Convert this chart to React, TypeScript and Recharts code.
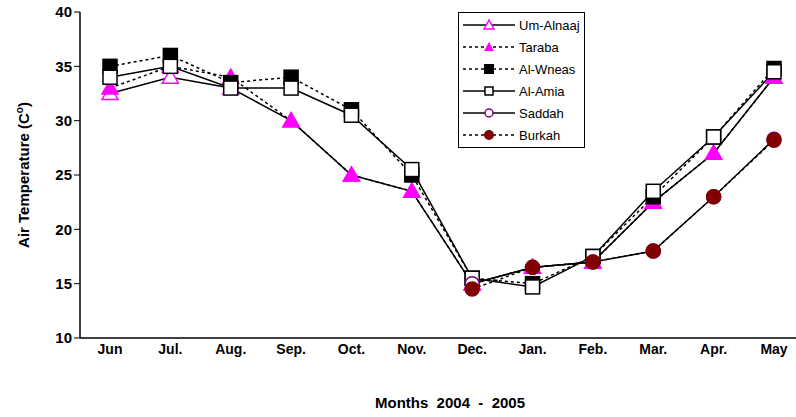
import React from "react";
import { LineChart, Line, XAxis, YAxis } from "recharts";

const months = ["Jun","Jul.","Aug.","Sep.","Oct.","Nov.","Dec.","Jan.","Feb.","Mar.","Apr.","May"];
const umAlnaaj = [32.5,34,33,30,25,23.5,15,16.5,17,22.5,27,34];
const taraba = [33,35,34,30,25,23.5,15,16.5,17,22.5,27,34];
const alWneas = [35,36,33.5,34,31,25,15.5,15,17.5,23,28.5,34.8];
const alAmia = [34,35,33,33,30.5,25.5,15.5,14.7,17.5,23.5,28.5,34.5];
const saddah = [null,null,null,null,null,null,15,16.5,17,18,23,28.3];
const burkah = [null,null,null,null,null,null,14.5,16.5,17,18,23,28.2];
const yTicks = [10,15,20,25,30,35,40];

const data = months.map((m, i) => ({
  m, umAlnaaj: umAlnaaj[i], taraba: taraba[i], alWneas: alWneas[i],
  alAmia: alAmia[i], saddah: saddah[i], burkah: burkah[i],
}));

const Tri = (fill: string) => (p: any) => {
  const { cx, cy } = p;
  if (cx == null || cy == null) return <g />;
  return <polygon points={`${cx},${cy - 8} ${cx - 8},${cy + 6} ${cx + 8},${cy + 6}`} fill={fill} stroke="#ff00ff" strokeWidth={1.5} />;
};
const Sq = (fill: string) => (p: any) => {
  const { cx, cy } = p;
  if (cx == null || cy == null) return <g />;
  return <rect x={cx - 7} y={cy - 7} width={14} height={14} fill={fill} stroke="#000" strokeWidth={1.5} />;
};
const Circ = (fill: string, stroke: string) => (p: any) => {
  const { cx, cy } = p;
  if (cx == null || cy == null) return <g />;
  return <circle cx={cx} cy={cy} r={7} fill={fill} stroke={stroke} strokeWidth={1.5} />;
};

const series = [
  { key: "umAlnaaj", name: "Um-Alnaaj", dash: undefined, dot: Tri("#fff") },
  { key: "taraba", name: "Taraba", dash: "3 3", dot: Tri("#ff00ff") },
  { key: "alWneas", name: "Al-Wneas", dash: "3 3", dot: Sq("#000") },
  { key: "alAmia", name: "Al-Amia", dash: undefined, dot: Sq("#fff") },
  { key: "saddah", name: "Saddah", dash: undefined, dot: Circ("#fff", "#800080") },
  { key: "burkah", name: "Burkah", dash: "3 3", dot: Circ("#800000", "#800000") },
];

const legendIcons: Record<string, (x: number, y: number) => React.ReactNode> = {
  umAlnaaj: (x, y) => <polygon points={`${x},${y - 5} ${x - 5},${y + 4} ${x + 5},${y + 4}`} fill="#fff" stroke="#ff00ff" strokeWidth={1.5} />,
  taraba: (x, y) => <polygon points={`${x},${y - 5} ${x - 5},${y + 4} ${x + 5},${y + 4}`} fill="#ff00ff" />,
  alWneas: (x, y) => <rect x={x - 5} y={y - 5} width={10} height={10} fill="#000" />,
  alAmia: (x, y) => <rect x={x - 4} y={y - 4} width={8} height={8} fill="#fff" stroke="#000" strokeWidth={1.5} />,
  saddah: (x, y) => <circle cx={x} cy={y} r={4} fill="#fff" stroke="#800080" strokeWidth={1.5} />,
  burkah: (x, y) => <circle cx={x} cy={y} r={5} fill="#800000" />,
};

const LegendBox = () => (
  <div style={{ border: "1px solid #000", background: "#fff", padding: "1px 2px", fontSize: 13, boxSizing: "border-box", width: 127, height: 136 }}>
    {series.map((s) => (
      <div key={s.key} style={{ display: "flex", alignItems: "center", height: 22, whiteSpace: "nowrap" }}>
        <svg width={56} height={16} style={{ flex: "none" }}>
          <line x1={2} y1={8} x2={54} y2={8} stroke="#000" strokeWidth={1.5} strokeDasharray={s.dash} />
          {legendIcons[s.key](28, 8)}
        </svg>
        <span style={{ marginLeft: 2 }}>{s.name}</span>
      </div>
    ))}
  </div>
);

export default function App() {
  return (
    <div style={{ position: "fixed", left: 0, top: 0, width: 796, height: 417, overflow: "hidden", fontFamily: "Arial, 'Liberation Sans', sans-serif", background: "#fff" }}>
      <LineChart width={804} height={417} data={data} margin={{ top: 12, right: 0, bottom: 49, left: 0 }}>
        <XAxis dataKey="m" height={30} padding={{ left: 30, right: 30 }} tickLine={false} axisLine={{ stroke: "#000", strokeWidth: 1.5 }} tick={{ fill: "#000", fontSize: 14, fontWeight: "bold" }} tickMargin={0} />
        <YAxis domain={[10, 40]} ticks={yTicks} width={80} interval={0} axisLine={{ stroke: "#000", strokeWidth: 1.5 }} tickLine={{ stroke: "#000" }} tickSize={6}
          tick={{ fill: "#000", fontSize: 15, fontWeight: "bold" }} />
        {series.map((s) => (
          <Line key={s.key} dataKey={s.key} name={s.name} stroke="#000" strokeWidth={1.5} strokeDasharray={s.dash}
            dot={s.dot} activeDot={false} isAnimationActive={false} connectNulls={false} legendType="none" />
        ))}
      </LineChart>
      <div style={{ position: "absolute", left: 23, top: 175, transform: "translate(-50%,-50%) rotate(-90deg)", whiteSpace: "nowrap", fontSize: 15, fontWeight: "bold" }}>
        Air Temperature (C<sup style={{ fontSize: 10 }}>o</sup>)
      </div>
      <div style={{ position: "absolute", left: 0, width: 900, top: 394, textAlign: "center", whiteSpace: "pre", fontSize: 15, fontWeight: "bold" }}>
        {"Months  2004  -  2005"}
      </div>
      <div style={{ position: "absolute", left: 458, top: 12 }}>
        <LegendBox />
      </div>
    </div>
  );
}
